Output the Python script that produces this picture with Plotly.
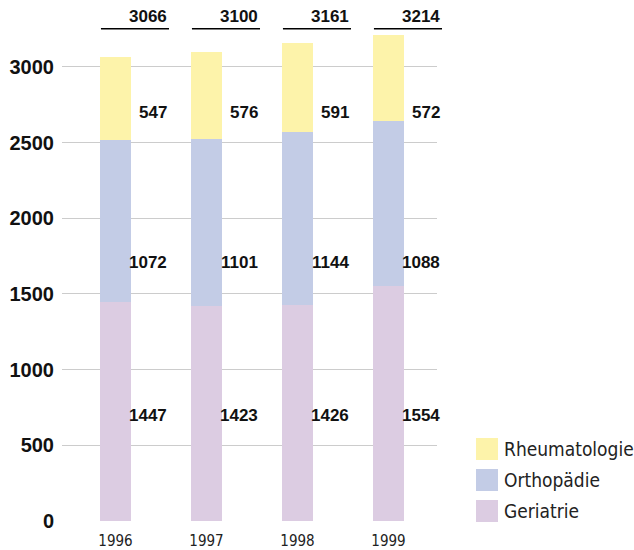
import plotly.graph_objects as go

years = ["1996", "1997", "1998", "1999"]
geriatrie = [1447, 1423, 1426, 1554]
orthopaedie = [1072, 1101, 1144, 1088]
rheumatologie = [547, 576, 591, 572]
totals = [3066, 3100, 3161, 3214]

series_names = ["Geriatrie", "Orthopädie", "Rheumatologie"]
series_values = [geriatrie, orthopaedie, rheumatologie]
colors = ["#DCCCE2", "#C3CCE6", "#FDF3AA"]

# layout constants
W, H = 634, 550
ML, MR, MT, MB = 62, 197, 4, 29
XR = [-0.588, 3.533]
YR = [0, 3416]
label_y = [694, 1705, 2696]
total_text_y = 3331
total_line_y = 3252

def xp(x):
    return (x - XR[0]) / (XR[1] - XR[0])

def yp(y):
    return (y - YR[0]) / (YR[1] - YR[0])

bold_font = "Liberation Sans"
fig = go.Figure()
for name, vals, col in zip(series_names, series_values, colors):
    fig.add_trace(go.Bar(x=years, y=vals, name=name, marker_color=col,
                         marker_line_width=0, width=0.34, showlegend=False,
                         hoverinfo="skip"))

annotations = []
shapes = []
for i, yr in enumerate(years):
    for vals, ly in zip(series_values, label_y):
        annotations.append(dict(x=i, y=ly, xref="x", yref="y", text=str(vals[i]),
                                xshift=53, showarrow=False, xanchor="right", yanchor="middle",
                                font=dict(family=bold_font, size=17, color="#111111", weight="bold")))
    annotations.append(dict(x=xp(i + 0.588), y=yp(total_text_y), xref="paper", yref="paper",
                            text=str(totals[i]), showarrow=False, xanchor="right", yanchor="middle",
                            font=dict(family=bold_font, size=17, color="#111111", weight="bold")))
    shapes.append(dict(type="line", xref="paper", yref="paper", x0=xp(i - 0.16), x1=xp(i + 0.588),
                       y0=yp(total_line_y), y1=yp(total_line_y),
                       line=dict(color="#000000", width=1.4)))

# custom legend
legend_items = list(zip(series_names, colors))[::-1]
pw = W - ML - MR
ph = H - MT - MB
for k, (name, col) in enumerate(legend_items):
    top = 438 + 31 * k
    shapes.append(dict(type="rect", xref="paper", yref="paper",
                       x0=(476 - ML) / pw, x1=(498 - ML) / pw,
                       y0=(H - MB - (top + 22)) / ph, y1=(H - MB - top) / ph,
                       fillcolor=col, line=dict(width=0)))
    annotations.append(dict(x=(502 - ML) / pw, y=(H - MB - (top + 11)) / ph,
                            xref="paper", yref="paper", text=name, showarrow=False,
                            xanchor="left", yanchor="middle",
                            font=dict(family="DejaVu Sans Condensed", size=19, color="#222222")))

fig.update_layout(
    width=W, height=H,
    margin=dict(l=ML, r=MR, t=MT, b=MB, autoexpand=False),
    paper_bgcolor="white", plot_bgcolor="white",
    barmode="stack", bargap=0,
    annotations=annotations, shapes=shapes,
    xaxis=dict(range=XR, showgrid=False, zeroline=False, showline=False, automargin=False,
               ticks="", tickfont=dict(family="DejaVu Sans Condensed", size=15, color="#222222"),
               ticklabelstandoff=9),
    yaxis=dict(range=YR, dtick=500, showgrid=True, gridcolor="#CCCCCC", gridwidth=1.2,
               zeroline=False, showline=False, ticks="", automargin=False,
               tickfont=dict(family=bold_font, size=20, color="#111111", weight="bold"),
               ticklabelstandoff=7),
)
fig.write_html("out.html", config={"displayModeBar": False},
               post_script="document.body.style.margin='0';")
